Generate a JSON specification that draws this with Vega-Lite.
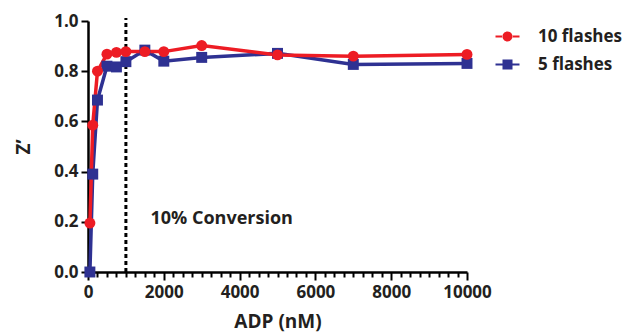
{
  "$schema": "https://vega.github.io/schema/vega-lite/v6.json",
  "width": 379,
  "height": 251,
  "autosize": {"type": "none"},
  "padding": {"left": 88, "top": 21, "right": 160, "bottom": 63},
  "background": "white",
  "config": {
    "view": {"stroke": null},
    "font": "Open Sans",
    "axis": {
      "grid": false,
      "domainColor": "#000000",
      "domainWidth": 2.5,
      "tickColor": "#000000",
      "tickWidth": 2,
      "labelFont": "Open Sans",
      "labelFontWeight": "bold",
      "labelFontSize": 17,
      "labelColor": "#231f20",
      "titleFont": "Open Sans",
      "titleFontSize": 19,
      "titleFontWeight": "bold",
      "titleColor": "#231f20"
    }
  },
  "datasets": {
    "main": [
      {"series": "5 flashes", "adp": 50, "z": 0.0},
      {"series": "5 flashes", "adp": 125, "z": 0.39},
      {"series": "5 flashes", "adp": 250, "z": 0.685},
      {"series": "5 flashes", "adp": 500, "z": 0.82},
      {"series": "5 flashes", "adp": 750, "z": 0.817},
      {"series": "5 flashes", "adp": 1000, "z": 0.838},
      {"series": "5 flashes", "adp": 1500, "z": 0.884},
      {"series": "5 flashes", "adp": 2000, "z": 0.84},
      {"series": "5 flashes", "adp": 3000, "z": 0.855},
      {"series": "5 flashes", "adp": 5000, "z": 0.871},
      {"series": "5 flashes", "adp": 7000, "z": 0.827},
      {"series": "5 flashes", "adp": 10000, "z": 0.831},
      {"series": "10 flashes", "adp": 50, "z": 0.195},
      {"series": "10 flashes", "adp": 125, "z": 0.585},
      {"series": "10 flashes", "adp": 250, "z": 0.8},
      {"series": "10 flashes", "adp": 500, "z": 0.868},
      {"series": "10 flashes", "adp": 750, "z": 0.875},
      {"series": "10 flashes", "adp": 1000, "z": 0.878},
      {"series": "10 flashes", "adp": 1500, "z": 0.878},
      {"series": "10 flashes", "adp": 2000, "z": 0.878},
      {"series": "10 flashes", "adp": 3000, "z": 0.902},
      {"series": "10 flashes", "adp": 5000, "z": 0.865},
      {"series": "10 flashes", "adp": 7000, "z": 0.86},
      {"series": "10 flashes", "adp": 10000, "z": 0.867}
    ],
    "cutoff": [{"adp": 1000, "z": 0, "z2": 1.012}],
    "note": [{"adp": 1650, "z": 0.21, "label": "10% Conversion"}]
  },
  "encoding": {
    "x": {
      "field": "adp",
      "type": "quantitative",
      "title": "ADP (nM)",
      "scale": {"domain": [0, 10000], "nice": false},
      "axis": {
        "values": [0,250,500,750,1000,1250,1500,1750,2000,2250,2500,2750,3000,3250,3500,3750,4000,4250,4500,4750,5000,5250,5500,5750,6000,6250,6500,6750,7000,7250,7500,7750,8000,8250,8500,8750,9000,9250,9500,9750,10000],
        "format": "d",
        "labelExpr": "datum.value % 2000 === 0 ? datum.label : ''",
        "labelOverlap": false,
        "labelFlush": false,
        "tickSize": {"condition": {"test": "datum.value % 2000 === 0", "value": 8}, "value": 5},
        "labelPadding": 4,
        "titlePadding": 12
      }
    },
    "y": {
      "field": "z",
      "type": "quantitative",
      "title": "Z’",
      "scale": {"domain": [0, 1], "nice": false},
      "axis": {
        "values": [0, 0.2, 0.4, 0.6, 0.8, 1.0],
        "format": ".1f",
        "tickSize": 7,
        "labelPadding": 3,
        "titlePadding": 20
      }
    }
  },
  "layer": [
    {
      "data": {"name": "cutoff"},
      "mark": {"type": "rule", "color": "#000000", "strokeWidth": 3, "strokeDash": [4, 3]},
      "encoding": {"y2": {"field": "z2"}}
    },
    {
      "data": {"name": "note"},
      "mark": {"type": "text", "align": "left", "baseline": "middle", "font": "Open Sans", "fontWeight": "bold", "fontSize": 18, "color": "#231f20"},
      "encoding": {"text": {"field": "label"}}
    },
    {
      "data": {"name": "main"},
      "mark": {"type": "line", "strokeWidth": 3.5},
      "encoding": {
        "color": {
          "field": "series",
          "type": "nominal",
          "scale": {"domain": ["10 flashes", "5 flashes"], "range": ["#ed1c24", "#2e3192"]},
          "legend": null
        }
      }
    },
    {
      "data": {"name": "main"},
      "mark": {"type": "point", "filled": true, "opacity": 1},
      "encoding": {
        "color": {
          "field": "series",
          "type": "nominal",
          "scale": {"domain": ["10 flashes", "5 flashes"], "range": ["#ed1c24", "#2e3192"]},
          "legend": null
        },
        "shape": {
          "field": "series",
          "type": "nominal",
          "scale": {"domain": ["10 flashes", "5 flashes"], "range": ["circle", "square"]},
          "legend": null
        },
        "size": {"value": 120}
      }
    },
    {
      "data": {"name": "main"},
      "transform": [{"filter": "false"}],
      "mark": {"type": "point", "filled": true, "opacity": 1},
      "encoding": {
        "color": {
          "field": "series",
          "type": "nominal",
          "scale": {"domain": ["10 flashes", "5 flashes"], "range": ["#ed1c24", "#2e3192"]},
          "legend": {
            "orient": "none",
            "legendX": 411,
            "legendY": 7,
            "title": null,
            "labelFont": "Open Sans",
            "labelFontWeight": "bold",
            "labelFontSize": 17,
            "labelColor": "#231f20",
            "symbolSize": 100,
            "symbolOpacity": 1,
            "symbolStrokeWidth": 0,
            "labelOffset": 22,
            "rowPadding": 10,
            "padding": 0
          }
        },
        "shape": {
          "field": "series",
          "type": "nominal",
          "scale": {
            "domain": ["10 flashes", "5 flashes"],
            "range": [
              "M-2.4,-0.2 H-0.9 V0.2 H-2.4 Z M0.9,-0.2 H2.4 V0.2 H0.9 Z M-1,0 A1,1 0 1,0 1,0 A1,1 0 1,0 -1,0 Z",
              "M-2.4,-0.2 H-1 V0.2 H-2.4 Z M1,-0.2 H2.4 V0.2 H1 Z M-1,-1 H1 V1 H-1 Z"
            ]
          },
          "legend": {
            "orient": "none",
            "legendX": 411,
            "legendY": 7,
            "title": null,
            "labelFont": "Open Sans",
            "labelFontWeight": "bold",
            "labelFontSize": 17,
            "labelColor": "#231f20",
            "symbolSize": 100,
            "symbolOpacity": 1,
            "symbolStrokeWidth": 0,
            "labelOffset": 22,
            "rowPadding": 10,
            "padding": 0
          }
        }
      }
    }
  ],
  "resolve": {"scale": {"color": "independent", "shape": "independent"}}
}
